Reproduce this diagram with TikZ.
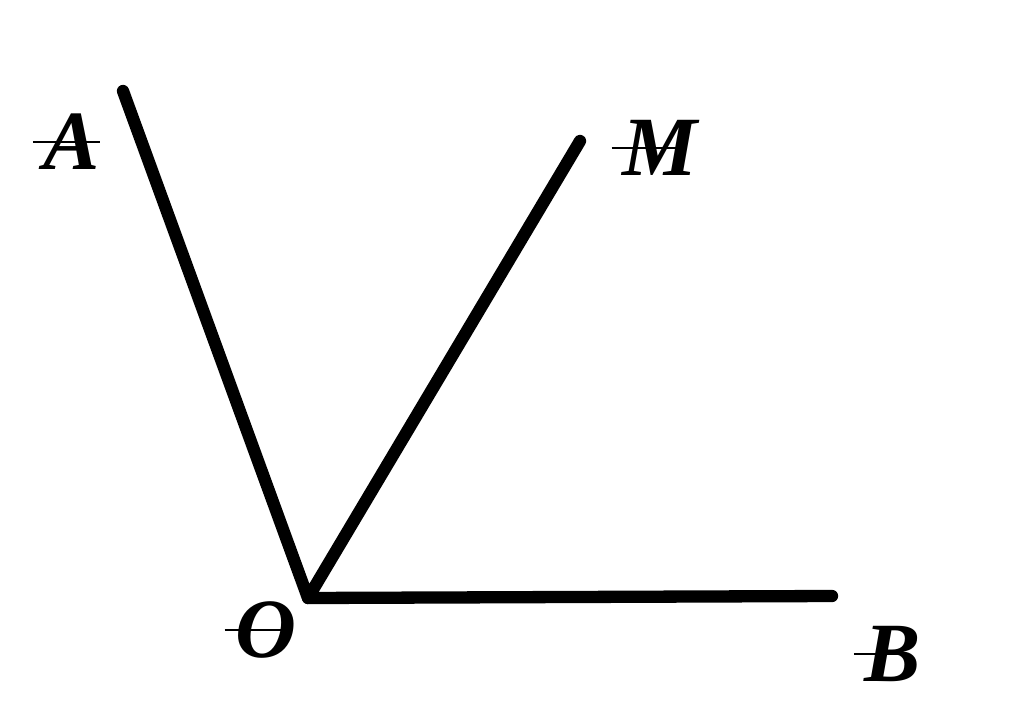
\documentclass[tikz,border=0pt]{standalone}
\usepackage{fontspec}
\setmainfont{Liberation Serif}
\begin{document}
\begin{tikzpicture}[x=0.02cm,y=-0.02cm,
    ray/.style={line width=7pt,line cap=round,line join=round},
    lbl/.style={font=\fontsize{48}{52}\selectfont\bfseries\itshape,inner sep=0pt},
    strike/.style={line width=1.6pt}]
   \useasboundingbox (0,0) rectangle (1024,706);
   \coordinate (O) at (308,598);
   \coordinate (A) at (123,91);
   \coordinate (M) at (580,141);
   \coordinate (B) at (832,596);
   \draw [ray] (A)--(O)--(M);
   \draw [ray] (O)--(B);
   \node [lbl] (la) at (72,142) {A};
   \node [lbl] (lm) at (660,148) {M};
   \node [lbl] (lo) at (266,630) {O};
   \node [lbl] (lb) at (893,654) {B};
   % strike marks through the letters
   \draw [strike] ([xshift=-6pt]la.west) -- (la.east);
   \draw [strike] ([xshift=-6pt]lm.west) -- ([xshift=-10pt]lm.east);
   \draw [strike] ([xshift=-6pt]lo.west) -- ([xshift=-8pt]lo.east);
   \draw [strike] ([xshift=-6pt]lb.west) -- ([xshift=-10pt]lb.east);
\end{tikzpicture}
\end{document}
